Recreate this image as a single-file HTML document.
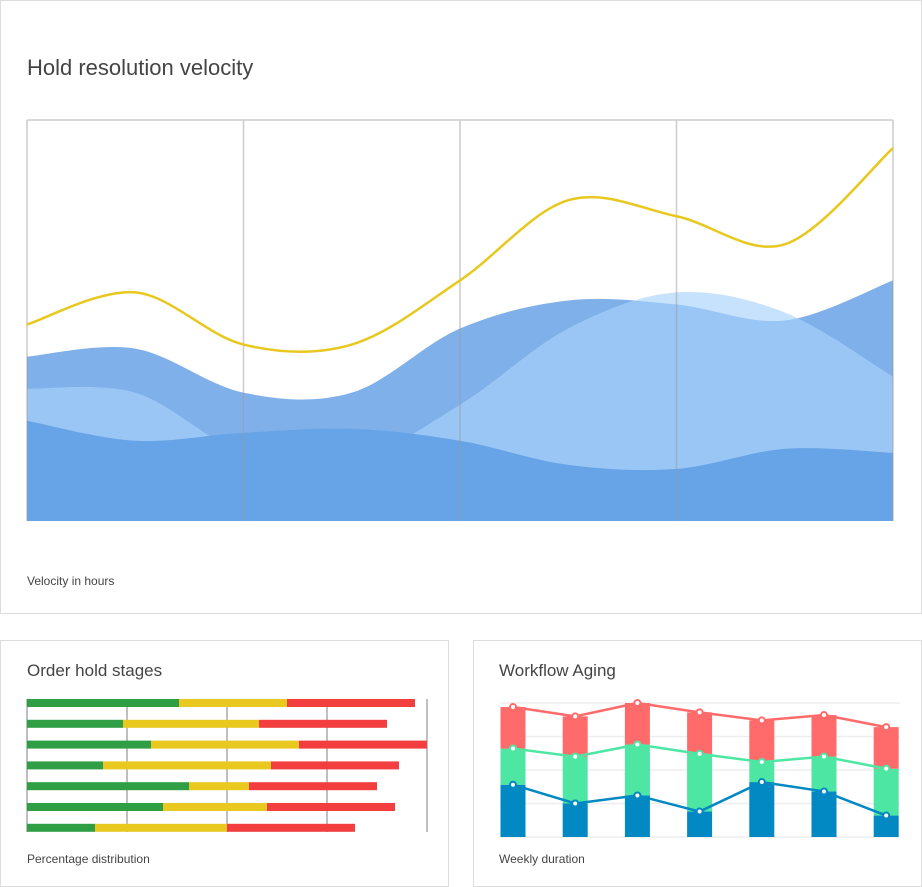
<!DOCTYPE html>
<html><head><meta charset="utf-8"><style>
body{margin:0;background:#fff;font-family:"Liberation Sans",sans-serif;}
.card{position:absolute;border:1px solid #ddd;background:#fff;box-sizing:border-box;}
.t{position:absolute;color:#444;}
svg{position:absolute;left:0;top:0;}
</style></head><body>
<div class="card" style="left:0;top:0;width:922px;height:614px"></div>
<div class="card" style="left:0;top:640px;width:449px;height:247px"></div>
<div class="card" style="left:473px;top:640px;width:449px;height:247px"></div>
<div class="t" style="left:27px;top:55px;font-size:22px">Hold resolution velocity</div>
<div class="t" style="left:27px;top:574px;font-size:12px">Velocity in hours</div>
<div class="t" style="left:27px;top:661px;font-size:17px">Order hold stages</div>
<div class="t" style="left:27px;top:852px;font-size:12px">Percentage distribution</div>
<div class="t" style="left:499px;top:661px;font-size:17px">Workflow Aging</div>
<div class="t" style="left:499px;top:852px;font-size:12px">Weekly duration</div>
<svg id="s" width="922" height="887"></svg>
<script>
// main chart data
const velYellow=[49,57,44,44,60,80,76,69,93];
const velA=[41,43,32,32,48,55,54,50,60];
const velB=[33,32,17,15,29,48,57,52,36];
const velC=[25,20,22,23,20,14,13,18,17];
// stages data
const stGreen=[38,24,31,19,40.5,34,17];
const stYellow=[27,34,37,42,15,26,33];
const stRed=[32,32,32,32,32,32,32];
// aging data
const agBlue=[39,25,31,19,41,34,16];
const agGreen=[27,35,38,43,15,26,35];
const agRed=[31,30,31,31,31,31,31];

const s=document.getElementById('s');
const NS='http://www.w3.org/2000/svg';
function mk(t,a,name){const e=document.createElementNS(NS,t);for(const k in a)e.setAttribute(k,a[k]);


s.appendChild(e);return e;}
// main axes
const X0=27,X1=893,Y0=521,Y1=120;
const mx=i=>X0+i*(X1-X0)/8, my=v=>Y0-v*(Y0-Y1)/100;
function smooth(vals){const p=vals.map((v,i)=>[mx(i),my(v)]);let d='M'+p[0][0]+','+p[0][1];
for(let i=0;i<p.length-1;i++){const a=p[i-1]||p[i],b=p[i],c=p[i+1],e=p[i+2]||c;
d+=` C${b[0]+(c[0]-a[0])/6},${b[1]+(c[1]-a[1])/6} ${c[0]-(e[0]-b[0])/6},${c[1]-(e[1]-b[1])/6} ${c[0]},${c[1]}`;}return d;}
const close=` L${X1},${Y0} L${X0},${Y0} Z`;
mk('path',{d:smooth(velA)+close,fill:'#80b0ea'},'area-a');
mk('path',{d:smooth(velB)+close,fill:'rgb(168,210,250)','fill-opacity':0.65},'area-b');
mk('path',{d:smooth(velC)+close,fill:'#65a3e6','fill-opacity':0.97},'area-c');
for(let i=0;i<=4;i++){const x=X0+i*(X1-X0)/4;mk('line',{x1:x,x2:x,y1:Y1,y2:Y0,stroke:'#999','stroke-opacity':0.5,'stroke-width':1.5},'grid-line');}
mk('line',{x1:X0,x2:X1,y1:Y1,y2:Y1,stroke:'#ccc','stroke-width':1.5},'top-line');
mk('path',{d:smooth(velYellow),fill:'none',stroke:'#e8c81e','stroke-width':2.5},'yellow-line');
// stages
const SX0=27,SX1=427,sx=v=>SX0+v*(SX1-SX0)/100;
for(let i=0;i<=4;i++){const x=sx(i*25);mk('line',{x1:x,x2:x,y1:699,y2:832,stroke:'#aaa','stroke-width':1.5},'stage-grid');}
for(let i=0;i<7;i++){const y=699+i*20.8;let a=0;
[[stGreen,'#2f9e44'],[stYellow,'#e9c920'],[stRed,'#f23e3e']].forEach(([arr,c])=>{
mk('rect',{x:sx(a),y:y,width:sx(a+arr[i])-sx(a),height:8,fill:c},'stage-bar');a+=arr[i];});}
// aging
const AB=837,AT=703,ay=v=>AB-v*(AB-AT)/100,ax=i=>513+i*62.2;
for(let i=0;i<=4;i++){const y=AB-i*(AB-AT)/4;mk('line',{x1:500,x2:900,y1:y,y2:y,stroke:'#eee','stroke-width':1.5},'aging-grid');}
const tops=[[],[],[]];
for(let i=0;i<7;i++){let a=0;[[agBlue,'#0288c2'],[agGreen,'#4de6a3'],[agRed,'#ff6b6b']].forEach(([arr,c],k)=>{
mk('rect',{x:ax(i)-12.5,y:ay(a+arr[i]),width:25,height:ay(a)-ay(a+arr[i]),fill:c},'aging-bar');a+=arr[i];tops[k].push(a);});}
['#0288c2','#4de6a3','#ff6b6b'].forEach((c,k)=>{
mk('polyline',{points:tops[k].map((v,i)=>ax(i)+','+ay(v)).join(' '),fill:'none',stroke:c,'stroke-width':2.5},'aging-line');
tops[k].forEach((v,i)=>mk('circle',{cx:ax(i),cy:ay(v),r:3,fill:'#fff',stroke:c,'stroke-width':2},'aging-point'));});
</script>
</body></html>
